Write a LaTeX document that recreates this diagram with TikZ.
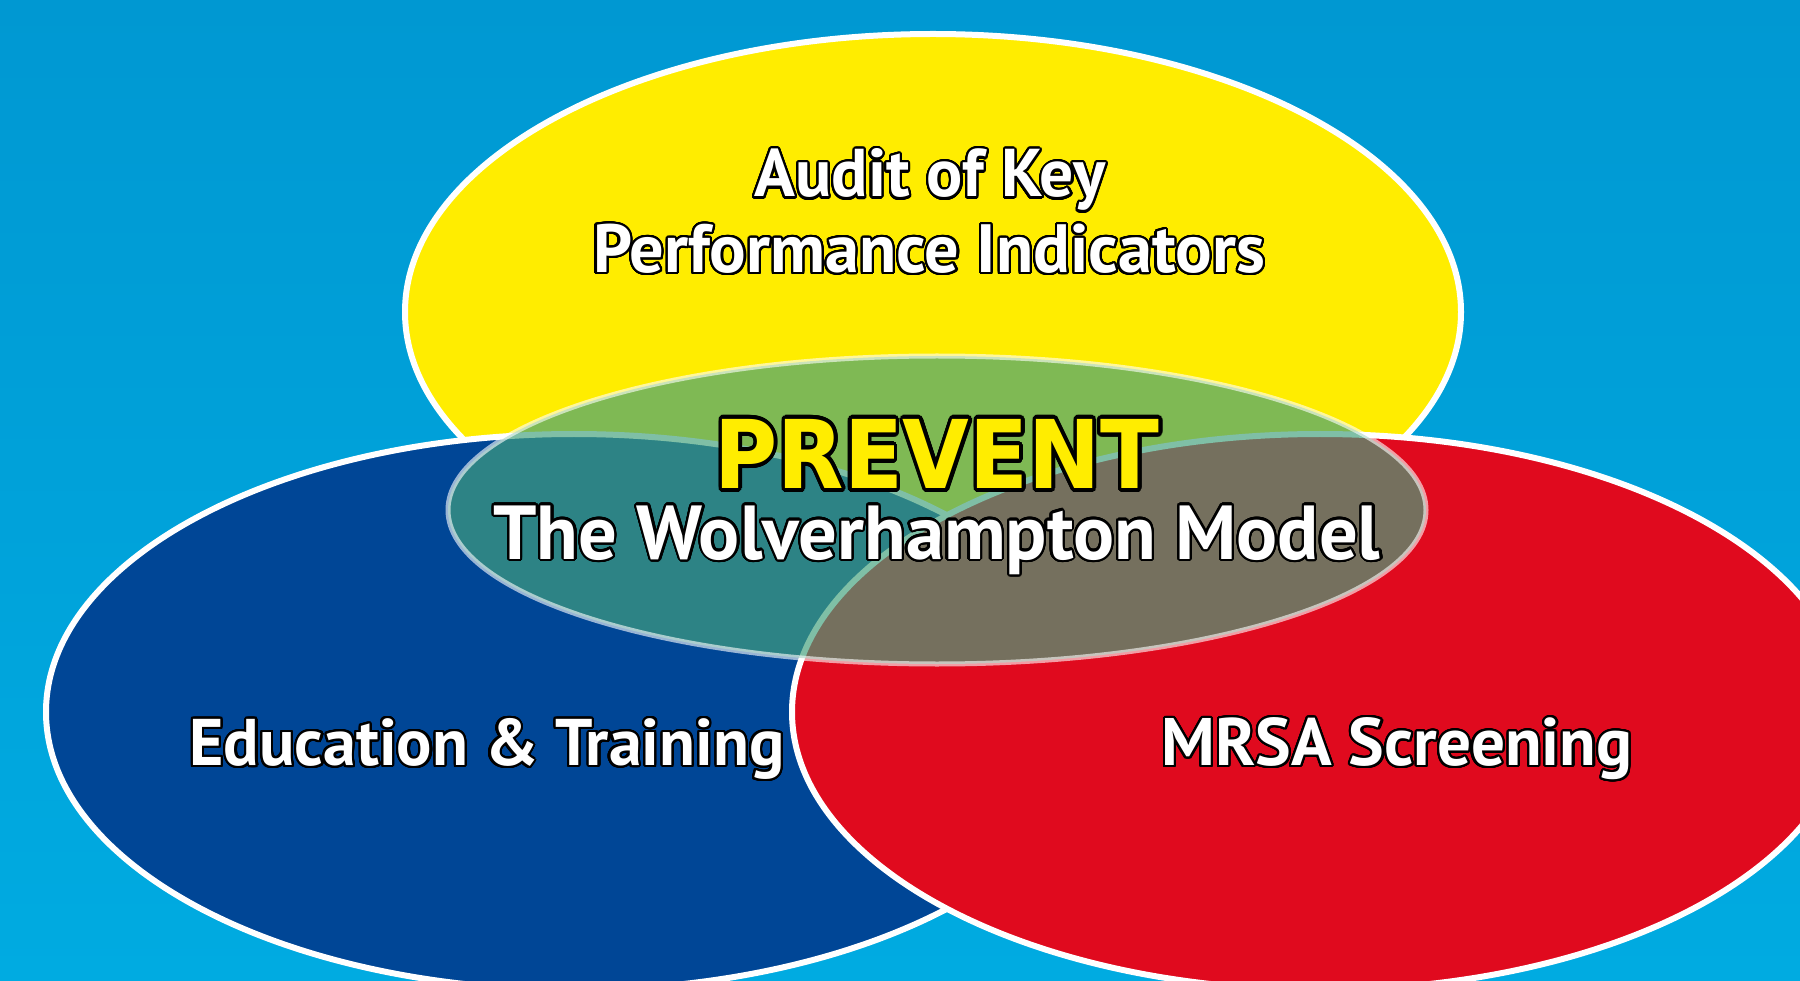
\documentclass[tikz,border=0pt]{standalone}
\usepackage{fontspec}
\setmainfont{PT Sans}
\newfontfamily\preventfont{DejaVu Sans}
\usepackage{contour}
\contournumber{32}
\definecolor{bgtop}{RGB}{0,152,210}
\definecolor{bgbot}{RGB}{0,171,225}
\definecolor{kpiyellow}{RGB}{255,237,0}
\definecolor{edublue}{RGB}{0,70,150}
\definecolor{mrsared}{RGB}{224,10,30}
\definecolor{prevgreen}{RGB}{67,161,125}
\newlength\tmpw
\newcommand\fittext[2]{%
  \settowidth\tmpw{\fontsize{10pt}{10pt}\selectfont\bfseries #2}%
  \pgfmathsetmacro\fs{10*(#1/\tmpw)}%
  \fontsize{\fs pt}{\fs pt}\selectfont\bfseries\contour{black}{#2}}
\tikzset{
  venn/.style={draw=white, line width=6},
  lbl/.style={text=white, inner sep=0pt, anchor=center},
}
\begin{document}
\begin{tikzpicture}[x=1pt,y=-1pt]
\useasboundingbox (0,0) rectangle (1800,981);
\shade[top color=bgtop, bottom color=bgbot] (0,0) rectangle (1800,981);
\begin{scope}
\clip (0,0) rectangle (1800,981);
\filldraw[venn, fill=kpiyellow] (933,312) ellipse [x radius=528, y radius=278];
\filldraw[venn, fill=edublue] (574,712) ellipse [x radius=528, y radius=278];
\filldraw[venn, fill=mrsared] (1320,712) ellipse [x radius=528, y radius=278];
\fill[prevgreen, fill opacity=0.68] (937,510) ellipse [x radius=489, y radius=154];
\draw[white, draw opacity=0.6, line width=5] (937,510) ellipse [x radius=489, y radius=154];
\end{scope}
\contourlength{2.2pt}
\node[lbl] (kpi1) at (930,181) {\fittext{351}{Audit of Key}};
\node[lbl] (kpi2) at (929,250) {\fittext{672}{Performance Indicators}};
\node[lbl] (model) at (937,541) {\fittext{887}{The Wolverhampton Model}};
\node[lbl] (edu) at (487,750) {\fittext{595}{Education \& Training}};
\node[lbl] (mrsa) at (1397,750) {\fittext{471}{MRSA Screening}};
\contourlength{3.5pt}
\node[lbl, text=kpiyellow] (prevent) at (937,456) {\scalebox{1}[1.1]{\preventfont\fittext{445}{PREVENT}}};
\end{tikzpicture}
\end{document}
